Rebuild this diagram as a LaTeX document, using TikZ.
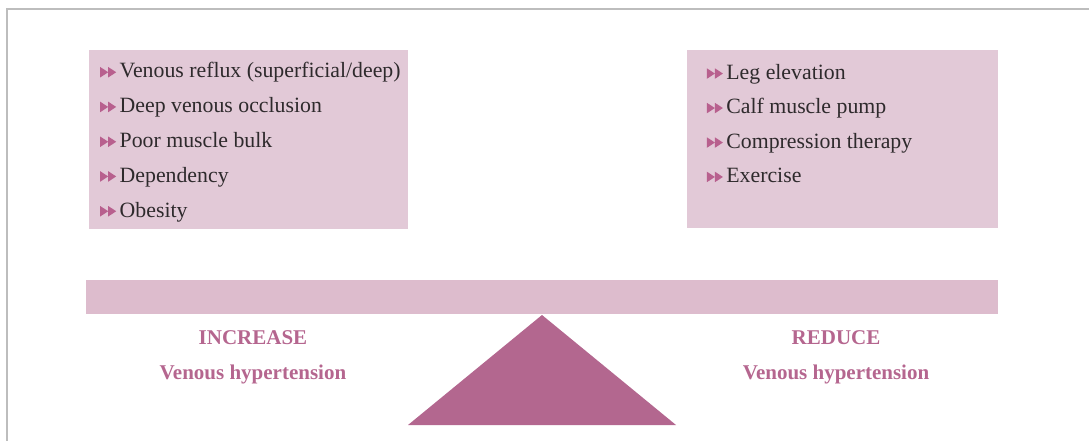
\documentclass[tikz,border=0pt]{standalone}
\usepackage{fontspec}
\setmainfont{Liberation Serif}
\definecolor{boxc}{HTML}{E2C9D7}
\definecolor{barc}{HTML}{DDBCCD}
\definecolor{triac}{HTML}{B3678F}
\definecolor{labc}{HTML}{B5668F}
\definecolor{bulc}{HTML}{B8608E}
\definecolor{txtc}{HTML}{2E2A2C}
\definecolor{framec}{HTML}{BDBDBD}
\newcommand{\bul}{\tikz[baseline=0pt,x=1pt,y=1pt]{\fill[bulc] (0,0.5)--(0,11)--(8,5.75)--cycle; \fill[bulc] (8,0.5)--(8,11)--(16,5.75)--cycle;}\hspace{3.5pt}}
\begin{document}
\begin{tikzpicture}[x=1pt,y=-1pt,
  item/.style={anchor=base west,inner sep=0pt,text=txtc,font=\fontsize{21.8}{25}\selectfont},
  lab/.style={anchor=base,inner sep=0pt,text=labc,font=\fontsize{21}{24}\selectfont\bfseries}]
\useasboundingbox (0,0) rectangle (1089,441);
\draw[framec,line width=1.5pt] (7,441) -- (7,9) -- (1089,9);
% boxes
\fill[boxc] (89,50) rectangle (408,229);
\fill[boxc] (687,50) rectangle (998,228);
% left items
\node[item] (l1) at (100,78) {\bul Venous reflux (superficial/deep)};
\node[item] (l2) at (100,112.7) {\bul Deep venous occlusion};
\node[item] (l3) at (100,147.5) {\bul Poor muscle bulk};
\node[item] (l4) at (100,182.2) {\bul Dependency};
\node[item] (l5) at (100,217) {\bul Obesity};
% right items
\node[item] (r1) at (706.7,79.3) {\bul Leg elevation};
\node[item] (r2) at (706.7,113.8) {\bul Calf muscle pump};
\node[item] (r3) at (706.7,148.3) {\bul Compression therapy};
\node[item] (r4) at (706.7,182.7) {\bul Exercise};
% beam and fulcrum
\fill[barc] (86,280) rectangle (998,314);
\fill[triac] (542,315) -- (676,425) -- (408,425) -- cycle;
% labels
\node[lab] (inc) at (253,344) {INCREASE};
\node[lab] (vh1) at (253,379.3) {Venous hypertension};
\node[lab] (red) at (836,344) {REDUCE};
\node[lab] (vh2) at (836,379.3) {Venous hypertension};
\end{tikzpicture}
\end{document}
